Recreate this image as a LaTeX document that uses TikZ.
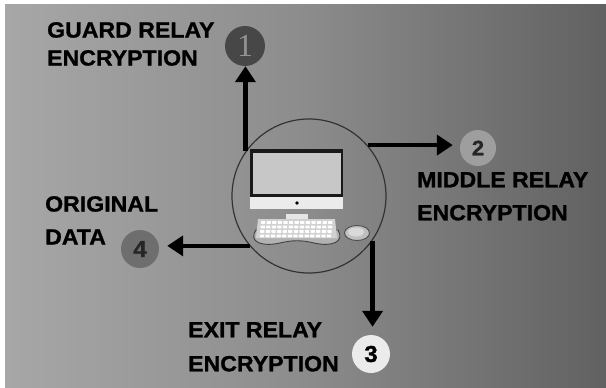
\documentclass[tikz,border=0pt]{standalone}
\usepackage{fontspec}
\setmainfont{Liberation Sans}
\newfontfamily\labelfont{Liberation Sans}[FakeStretch=1.05, FakeBold=1.2]
\newfontfamily\digitserif{Liberation Serif}
\usetikzlibrary{arrows.meta}

\definecolor{bgleft}{HTML}{C2C2C2}
\definecolor{bgmid}{HTML}{8C8C8C}
\definecolor{bgright}{HTML}{363636}
\pgfdeclarehorizontalshading{bgshade}{100bp}{color(0bp)=(bgleft); color(50bp)=(bgmid); color(100bp)=(bgright)}

\tikzset{
  caption/.style={anchor=north west, inner sep=0pt, align=left, text=black,
    font=\labelfont\bfseries\fontsize{22}{33}\selectfont},
  badge/.style={circle, inner sep=0pt, minimum size=38pt},
  flow/.style={line width=4.5pt, -{Triangle[length=16pt,width=20pt]}},
  key/.style={fill=white, rounded corners=0.4pt},
}

\begin{document}
\begin{tikzpicture}[x=1pt,y=-1pt]
  % canvas with a thin white margin on the left and top
  \fill[white] (0,0) rectangle (606,388);
  \shade[shading=bgshade] (5,4) rectangle (606,388);
  \useasboundingbox (0,0) rectangle (606,388);

  % central computer inside a ring
  \node[circle, draw=black!80, line width=1.2pt, minimum size=154pt, inner sep=0pt] (hub) at (309,196) {};

  % monitor
  \fill[black!90] (250,149) rectangle (343,197);
  \fill[black!22] (253,153) rectangle (341,194);
  \fill[black!8] (250,197) rectangle (343,209);
  \fill[black] (297,203) circle (1.8pt);
  \fill[black!45] (295,209) rectangle (300,214);
  \fill[black!10] (286,214) rectangle (308,219);

  % pad under the keyboard
  \draw[black!75, fill=black!30, line width=0.9pt]
    (256,230) .. controls (248,242) and (262,247) .. (280,243)
    .. controls (292,240) and (302,240) .. (314,243)
    .. controls (332,247) and (345,242) .. (338,230) -- cycle;
  % keyboard
  \fill[black!18] (258,219) -- (335,219) -- (337,238) -- (256,238) -- cycle;
  \foreach \r/\y in {0/221, 1/225.5, 2/230, 3/234.5}{
    \foreach \k in {0,...,12}{
      \fill[key] ({261+\k*5.6-\r*0.4},\y) rectangle ++(4.2,2.8);
    }
  }
  % mouse
  \draw[black!70, fill=black!25, line width=0.9pt] (357,233) ellipse [x radius=12.5pt, y radius=7.5pt];
  \fill[black!15] (356,232) ellipse [x radius=8pt, y radius=4.5pt];

  % numbered badges
  \node[badge, fill=black!72, minimum size=40pt, text=black!42,
        font=\digitserif\fontsize{32}{32}\selectfont] (n1) at (245,46) {1};
  \node[badge, fill=black!38, minimum size=36pt, text=black!85,
        font=\labelfont\bfseries\fontsize{21}{21}\selectfont] (n2) at (478,148) {2};
  \node[badge, fill=white!92!black, text=black,
        font=\labelfont\bfseries\fontsize{23}{23}\selectfont] (n3) at (371,354) {3};
  \node[badge, fill=black!57, text=black!85,
        font=\labelfont\bfseries\fontsize{23}{23}\selectfont] (n4) at (140,249) {4};

  % captions
  \node[caption, font=\labelfont\bfseries\fontsize{22}{28}\selectfont] (c1) at (47,22) {GUARD RELAY\\ENCRYPTION};
  \node[caption] (c2) at (417,172) {MIDDLE RELAY\\ENCRYPTION};
  \node[caption, font=\labelfont\bfseries\fontsize{22}{34}\selectfont] (c3) at (188,322) {EXIT RELAY\\ENCRYPTION};
  \node[caption] (c4) at (45,196) {ORIGINAL\\DATA};

  % arrows from the ring to each badge
  \draw[flow] (hub.145) -- (hub.145 |- n1.south);
  \draw[flow, shorten >=7pt] (hub.41) -- (hub.41 -| n2.west);
  \draw[flow, shorten >=8pt] (hub.325) -- (hub.325 |- n3.north);
  \draw[flow, shorten >=8pt] (hub.220) -- (hub.220 -| n4.east);
\end{tikzpicture}
\end{document}
